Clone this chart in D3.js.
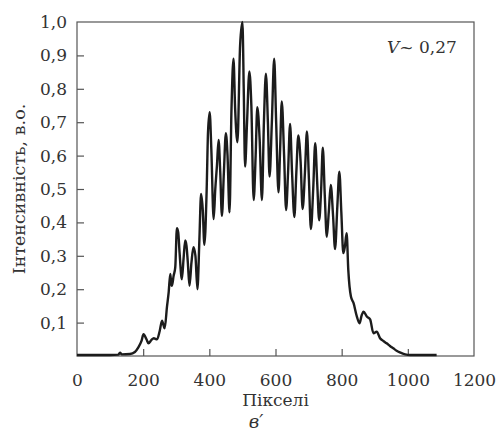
<!DOCTYPE html>
<html>
<head>
<meta charset="utf-8">
<script src="https://cdn.jsdelivr.net/npm/d3@7"></script>
<style>
  body { margin: 0; background: #fff; }
  svg { display: block; }
  svg text { font-family: "DejaVu Serif", serif !important; fill: #333; }
</style>
</head>
<body>
<div class="chart"></div>
<script>
// pixel positions and intensity
const pixels = [0, 50, 100, 125, 130, 135, 160, 175, 185, 195, 201, 210, 216, 225, 232, 242, 250, 257, 262, 265,
    272, 277, 282, 285, 287, 292, 297, 302, 306, 310, 317, 322, 327, 331, 335, 340, 346, 352, 358, 364,
    370, 375, 380, 385, 392, 396, 401, 406, 413, 418, 423, 428, 433, 438, 444, 450, 455, 461, 467, 473,
    478, 485, 493, 500, 504, 508, 514, 521, 527, 534, 540, 545, 552, 559, 565, 571, 577, 582, 589, 596,
    602, 609, 614, 619, 626, 632, 638, 644, 650, 657, 663, 669, 676, 682, 689, 695, 701, 707, 714, 720,
    726, 732, 738, 743, 749, 755, 761, 767, 774, 780, 787, 793, 799, 805, 810, 815, 820, 828, 836, 846,
    854, 860, 866, 876, 886, 896, 906, 916, 926, 936, 946, 956, 966, 976, 992, 1007, 1050, 1087];
const intensity = [0.003, 0.003, 0.003, 0.004, 0.01, 0.005, 0.006, 0.012, 0.025, 0.045, 0.065, 0.05, 0.038, 0.048, 0.053, 0.05, 0.075, 0.106, 0.09, 0.083,
    0.148, 0.19, 0.246, 0.215, 0.21, 0.24, 0.265, 0.383, 0.37, 0.31, 0.23, 0.29, 0.346, 0.33, 0.28, 0.21, 0.28, 0.326, 0.3, 0.2,
    0.35, 0.485, 0.44, 0.333, 0.5, 0.67, 0.73, 0.62, 0.41, 0.5, 0.57, 0.647, 0.55, 0.42, 0.55, 0.667, 0.6, 0.43, 0.74, 0.89,
    0.74, 0.64, 0.93, 1.0, 0.8, 0.567, 0.7, 0.852, 0.75, 0.467, 0.6, 0.745, 0.65, 0.467, 0.7, 0.845, 0.7, 0.537, 0.7, 0.89,
    0.7, 0.49, 0.62, 0.762, 0.6, 0.437, 0.55, 0.695, 0.55, 0.416, 0.55, 0.66, 0.58, 0.44, 0.55, 0.672, 0.53, 0.38, 0.5, 0.637,
    0.52, 0.406, 0.5, 0.624, 0.48, 0.357, 0.43, 0.512, 0.42, 0.32, 0.45, 0.552, 0.43, 0.308, 0.33, 0.368, 0.258, 0.178, 0.158, 0.118,
    0.098, 0.12, 0.133, 0.118, 0.11, 0.068, 0.073, 0.053, 0.045, 0.038, 0.03, 0.023, 0.016, 0.011, 0.005, 0.003, 0.003, 0.003];
const xTicks = [0, 200, 400, 600, 800, 1000, 1200];
const yTicks = [0.1, 0.2, 0.3, 0.4, 0.5, 0.6, 0.7, 0.8, 0.9, 1.0];

const W = 501, H = 432;
const m = { left: 77, right: 474, top: 22, bottom: 356 };

const svg = d3.select(".chart").append("svg")
    .attr("width", W)
    .attr("height", H);

const x = d3.scaleLinear().domain([0, 1200]).range([m.left, m.right]);
const y = d3.scaleLinear().domain([0, 1]).range([m.bottom, m.top]);
const fmt = d => d3.format(".1f")(d).replace(".", ",");

// frame
svg.append("rect")
    .attr("x", m.left).attr("y", m.top)
    .attr("width", m.right - m.left).attr("height", m.bottom - m.top)
    .attr("fill", "none").attr("stroke", "#555").attr("stroke-width", 1.2);

// x axis, ticks pointing inward
const xAxis = svg.append("g")
    .attr("transform", `translate(0,${m.bottom})`)
    .call(d3.axisBottom(x).tickValues(xTicks).tickFormat(d3.format("d"))
        .tickSizeInner(-7).tickSizeOuter(0).tickPadding(18));
xAxis.select(".domain").remove();
xAxis.selectAll(".tick line").attr("stroke", "#555").attr("stroke-width", 1.2)
    .attr("display", d => (d === 0 || d === 1200) ? "none" : null);
xAxis.selectAll("text").attr("font-size", 17);

// y axis
const yAxis = svg.append("g")
    .attr("transform", `translate(${m.left},0)`)
    .call(d3.axisLeft(y).tickValues(yTicks).tickFormat(fmt).tickSizeInner(-7).tickSizeOuter(0).tickPadding(10));
yAxis.select(".domain").remove();
yAxis.selectAll(".tick line").attr("stroke", "#555").attr("stroke-width", 1.2)
    .attr("display", d => d === 1.0 ? "none" : null);
yAxis.selectAll("text").attr("font-size", 17);

// curve
const pts = pixels.map((p, i) => [p, intensity[i]]);
svg.append("path")
    .datum(pts)
    .attr("fill", "none")
    .attr("stroke", "#1c1c1c")
    .attr("stroke-width", 2.4)
    .attr("stroke-linejoin", "round")
    .attr("d", d3.line().x(d => x(d[0])).y(d => y(d[1])).curve(d3.curveMonotoneX));

// labels
svg.append("text")
    .attr("x", (m.left + m.right) / 2).attr("y", 406)
    .attr("text-anchor", "middle").attr("font-size", 17)
    .text("Пікселі");

svg.append("text")
    .attr("x", 256).attr("y", 428)
    .attr("text-anchor", "middle").attr("font-size", 18).attr("font-style", "italic")
    .text("в′");

svg.append("text")
    .attr("transform", `translate(25,${(m.top + m.bottom) / 2}) rotate(-90)`)
    .attr("text-anchor", "middle").attr("font-size", 17.5)
    .text("Інтенсивність,  в.о.");

const ann = svg.append("text")
    .attr("x", 387).attr("y", 53).attr("font-size", 17);
ann.append("tspan").attr("font-style", "italic").text("V");
ann.append("tspan").text("~ 0,27");
</script>
</body>
</html>
